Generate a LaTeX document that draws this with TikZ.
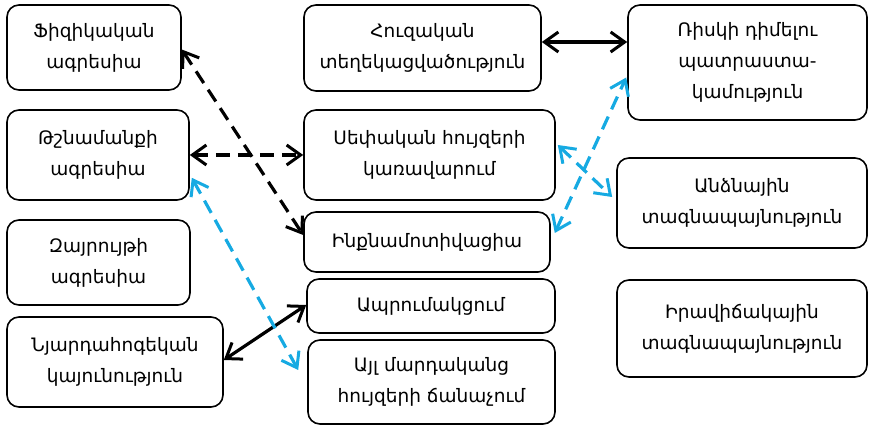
\documentclass[tikz,border=0pt]{standalone}
\usepackage{fontspec}
\setmainfont{DejaVu Sans}
\usetikzlibrary{arrows.meta}
\definecolor{linkblue}{RGB}{22,170,226}
\tikzset{
  box/.style={draw=black, line width=1.6pt, rounded corners=12pt, align=center,
    inner sep=0pt, font=\fontsize{18.5}{31}\selectfont},
  barb/.style={Straight Barb[length=15pt,width=20pt,line width=3pt]},
  dbl/.style={line width=3.2pt, {Straight Barb[length=14pt,width=20pt,line width=3pt]}-{Straight Barb[length=14pt,width=20pt,line width=3pt]}},
  dsh/.style={dash pattern=on 14pt off 8pt},
  blue/.style={draw=linkblue}
}
\begin{document}
\begin{tikzpicture}[x=1pt,y=-1pt]
\useasboundingbox (0,0) rectangle (870,427);
\node[box, minimum width=174pt, minimum height=85pt] (b1) at (94,47.5) {Ֆիզիկական\\ագրեսիա};
\node[box, minimum width=182pt, minimum height=90pt] (b2) at (98,155) {Թշնամանքի\\ագրեսիա};
\node[box, minimum width=183pt, minimum height=85pt] (b3) at (98.5,262.5) {Զայրույթի\\ագրեսիա};
\node[box, minimum width=216pt, minimum height=90pt] (b4) at (115,362) {Նյարդահոգեկան\\կայունություն};
\node[box, minimum width=237pt, minimum height=86pt] (b5) at (422.5,48) {Հուզական\\տեղեկացվածություն};
\node[box, minimum width=251pt, minimum height=90pt] (b6) at (429.5,155) {Սեփական հույզերի\\կառավարում};
\node[box, minimum width=246pt, minimum height=60pt] (b7) at (427,242) {Ինքնամոտիվացիա};
\node[box, minimum width=248pt, minimum height=54pt] (b8) at (431,306) {Ապրումակցում};
\node[box, minimum width=247pt, minimum height=84pt] (b9) at (431.5,382) {Այլ մարդականց\\հույզերի ճանաչում};
\node[box, minimum width=239pt, minimum height=115pt] (b10) at (747.5,62.5) {Ռիսկի դիմելու\\պատրաստա-\\կամություն};
\node[box, minimum width=250pt, minimum height=90pt] (b11) at (742,203) {Անձնային\\տագնապայնություն};
\node[box, minimum width=250pt, minimum height=97pt] (b12) at (742,328.5) {Իրավիճակային\\տագնապայնություն};

\draw[dbl] ([yshift=6pt]b5.east) -- ([yshift=20.5pt]b10.west);
\draw[dbl,dsh] (b2.east) -- (b6.west);
\draw[dbl,dsh] ([yshift=-2pt]b1.east) -- ([yshift=7pt]b7.west);
\draw[dbl] ([yshift=2pt]b4.east) -- ([yshift=1pt]b8.west);
\draw[dbl,dsh,blue] ([xshift=2pt,yshift=23pt]b2.south east) -- ([xshift=-9pt,yshift=12pt]b9.west);
\draw[dbl,dsh,blue] ([xshift=2pt,yshift=10pt]b6.east) -- ([xshift=-4pt,yshift=6pt]b11.west);
\draw[dbl,dsh,blue] ([xshift=4pt,yshift=9pt]b7.east) -- ([xshift=-1pt,yshift=-15pt]b10.west);
\end{tikzpicture}
\end{document}
